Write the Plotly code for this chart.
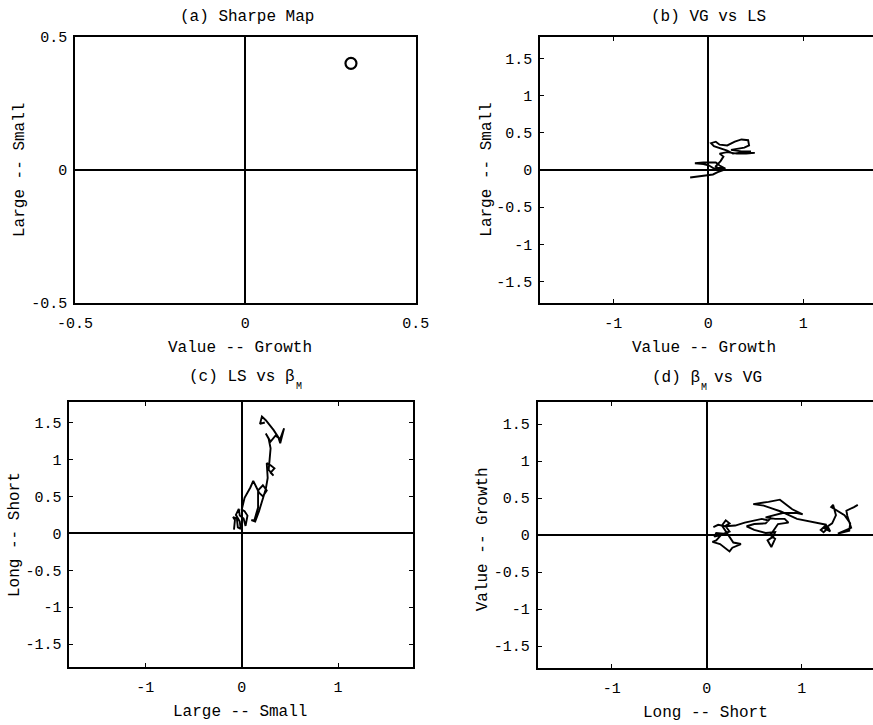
import plotly.graph_objects as go

W, H = 873, 725
FONT = "Liberation Mono, Courier New, monospace"

# (a) Sharpe map: single style point (Value--Growth, Large--Small)
sharpe_vg = [0.31]
sharpe_ls = [0.40]

# (b) VG vs LS trajectory
vg_b = [-0.19, -0.12, -0.02, 0.05, 0.10, 0.18, 0.14, 0.06, 0.01, -0.05, -0.14, -0.05,
        0.08, 0.12, 0.18, 0.12, 0.08, 0.13, 0.16, 0.12, 0.20, 0.30, 0.40, 0.49, 0.38,
        0.26, 0.20, 0.12, 0.06, 0.03, 0.08, 0.12, 0.20, 0.28, 0.35, 0.42, 0.43, 0.38,
        0.30, 0.24, 0.35, 0.45]
ls_b = [-0.10, -0.09, -0.08, -0.06, -0.03, 0.01, 0.03, 0.02, 0.06, 0.08, 0.09, 0.10,
        0.10, 0.06, 0.02, 0.00, 0.05, 0.12, 0.18, 0.22, 0.24, 0.22, 0.22, 0.23, 0.24,
        0.22, 0.26, 0.30, 0.32, 0.36, 0.38, 0.34, 0.33, 0.38, 0.41, 0.40, 0.33, 0.30,
        0.28, 0.27, 0.25, 0.25]

# (c) LS vs beta_M trajectory
ls_c = [-0.08, -0.07, -0.09, -0.05, -0.04, -0.01, -0.02, -0.06, -0.03, -0.02, 0.02,
        0.04, 0.06, 0.03, 0.00, 0.03, 0.09, 0.12, 0.15, 0.18, 0.22, 0.26, 0.22, 0.17,
        0.17, 0.13, 0.10, 0.14, 0.18, 0.22, 0.25, 0.27, 0.26, 0.30, 0.34, 0.30, 0.33,
        0.28, 0.29, 0.30, 0.28, 0.25, 0.30, 0.35, 0.40, 0.44, 0.40, 0.38, 0.33, 0.25,
        0.21, 0.19, 0.24]
bm_c = [0.05, 0.18, 0.22, 0.20, 0.08, 0.06, 0.16, 0.25, 0.33, 0.24, 0.20, 0.10,
        0.24, 0.30, 0.32, 0.48, 0.62, 0.71, 0.63, 0.55, 0.50, 0.58, 0.65, 0.58,
        0.35, 0.17, 0.18, 0.16, 0.30, 0.48, 0.60, 0.75, 0.95, 0.92, 0.88, 0.82, 0.78,
        0.86, 1.00, 1.15, 1.28, 1.35, 1.24, 1.32, 1.28, 1.42, 1.22, 1.30, 1.40, 1.53,
        1.58, 1.48, 1.50]

# (d) beta_M vs VG trajectory
bm_d = [0.07, 0.12, 0.20, 0.24, 0.18, 0.10, 0.08, 0.15, 0.10, 0.06, 0.14, 0.24, 0.27,
        0.36, 0.28, 0.25, 0.20, 0.16, 0.20, 0.24, 0.19, 0.30, 0.40, 0.50, 0.58, 0.65,
        0.68, 0.62, 0.50, 0.42, 0.50, 0.62, 0.72, 0.70, 0.64, 0.68, 0.72, 0.67, 0.75,
        0.86, 0.82, 0.72, 0.62, 0.80, 0.95, 1.01, 0.90, 0.77, 0.65, 0.49, 0.60, 0.72,
        0.78, 0.95, 1.10, 1.26, 1.20, 1.23, 1.28, 1.30, 1.24, 1.32, 1.36, 1.33, 1.31,
        1.37, 1.45, 1.51, 1.50, 1.38, 1.52, 1.48, 1.47, 1.55, 1.59]
vg_d = [0.11, 0.14, 0.12, 0.05, 0.02, 0.03, -0.02, 0.00, -0.07, -0.09, -0.12, -0.22,
        -0.17, -0.12, -0.10, -0.04, 0.05, 0.13, 0.20, 0.16, 0.12, 0.13, 0.17, 0.20,
        0.22, 0.20, 0.24, 0.16, 0.15, 0.12, 0.07, 0.03, 0.04, -0.02, -0.07, -0.16,
        -0.05, 0.00, 0.15, 0.17, 0.22, 0.22, 0.24, 0.30, 0.30, 0.28, 0.35, 0.48, 0.45,
        0.42, 0.40, 0.35, 0.32, 0.22, 0.18, 0.14, 0.07, 0.04, 0.10, 0.05, 0.09, 0.16,
        0.27, 0.41, 0.38, 0.33, 0.27, 0.16, 0.06, 0.02, 0.10, 0.26, 0.33, 0.38, 0.41]

# tick values and labels
ticks_half = [-0.5, 0, 0.5]
ticks_half_text = ["-0.5", "0", "0.5"]
ticks_x = [-1, 0, 1]
ticks_x_text = ["-1", "0", "1"]
ticks_y = [-1.5, -1, -0.5, 0, 0.5, 1, 1.5]
ticks_y_text = ["-1.5", "-1", "-0.5", "0", "0.5", "1", "1.5"]

xtitles = ["Value -- Growth", "Value -- Growth", "Large -- Small", "Long -- Short"]
ytitles = ["Large -- Small", "Large -- Small", "Long -- Short", "Value -- Growth"]

# panel titles as pieces: (text, left x px, centre y px, font size);
# the small "M" pieces are the subscripts of beta
title_pieces = [
    ("(a) Sharpe Map", 178.5, 17.3, 16),
    ("(b) VG vs LS", 650.4, 17.3, 16),
    ("(c) LS vs \u03b2", 188.0, 377.0, 16),
    ("M", 294.5, 386.0, 10),
    ("(d) \u03b2", 651.0, 378.0, 16),
    ("M", 699.5, 387.0, 10),
    ("vs VG", 713.0, 378.0, 16),
]


def px_x(p):
    return p / W


def px_y(p):
    return 1 - p / H


# panel boxes in pixels: left, right, top, bottom
boxes = [(75, 415.7, 36.7, 303), (540, 873, 37.3, 303),
         (69.3, 413.3, 401.7, 667.3), (537.7, 873, 402.3, 668.3)]
xranges = [[-0.5, 0.5], [-1.77, 1.734], [-1.789, 1.781], [-1.779, 1.75]]
yranges = [[-0.5, 0.5], [-1.786, 1.782], [-1.813, 1.781], [-1.80, 1.796]]
xticks = [(ticks_half, ticks_half_text), (ticks_x, ticks_x_text),
          (ticks_x, ticks_x_text), (ticks_x, ticks_x_text)]
yticks = [(ticks_half, ticks_half_text), (ticks_y, ticks_y_text),
          (ticks_y, ticks_y_text), (ticks_y, ticks_y_text)]

# axis-title positions (pixels)
xtitle_pos = [(240, 347.7), (704, 348.3), (240, 712.3), (705, 713.3)]
ytitle_pos = [(20, 170), (486.7, 170), (15, 535), (483.3, 539)]

fig = go.Figure()

series = [(sharpe_vg, sharpe_ls), (vg_b, ls_b), (ls_c, bm_c), (bm_d, vg_d)]
for i, (xs, ys) in enumerate(series):
    sfx = "" if i == 0 else str(i + 1)
    if i == 0:
        fig.add_trace(go.Scatter(
            x=xs, y=ys, mode="markers", xaxis="x" + sfx, yaxis="y" + sfx,
            marker=dict(symbol="circle-open", size=11, color="black",
                        line=dict(width=2.2, color="black")),
            showlegend=False, hoverinfo="skip"))
    else:
        fig.add_trace(go.Scatter(
            x=xs, y=ys, mode="lines", xaxis="x" + sfx, yaxis="y" + sfx,
            line=dict(color="black", width=1.9),
            showlegend=False, hoverinfo="skip"))

layout = {}
for i in range(4):
    sfx = "" if i == 0 else str(i + 1)
    l, r, t, b = boxes[i]
    full_box = i in (0, 2)
    common = dict(showline=True, linecolor="black", linewidth=1.7,
                  ticks="inside", ticklen=4, tickcolor="black", tickwidth=1,
                  zeroline=True, zerolinecolor="black", zerolinewidth=1.6,
                  showgrid=False, automargin=False,
                  tickfont=dict(family=FONT, size=15, color="black"),
                  fixedrange=True)
    layout["xaxis" + sfx] = dict(
        common, domain=[px_x(l), px_x(r)], range=xranges[i],
        anchor="y" + sfx, tickvals=xticks[i][0], ticktext=xticks[i][1],
        mirror="ticks", ticklabelstandoff=5)
    layout["yaxis" + sfx] = dict(
        common, domain=[px_y(b), px_y(t)], range=yranges[i],
        anchor="x" + sfx, tickvals=yticks[i][0], ticktext=yticks[i][1],
        mirror="ticks" if full_box else False, ticklabelstandoff=3)

annotations = []
for text, lx, cy, size in title_pieces:
    annotations.append(dict(text=text, x=px_x(lx), y=px_y(cy), xref="paper",
                            yref="paper", showarrow=False, xanchor="left",
                            yanchor="middle", borderpad=0,
                            font=dict(family=FONT, size=size, color="black")))
for i in range(4):
    ax, ay = xtitle_pos[i]
    annotations.append(dict(text=xtitles[i], x=px_x(ax), y=px_y(ay), xref="paper",
                            yref="paper", showarrow=False, xanchor="center",
                            yanchor="middle",
                            font=dict(family=FONT, size=16, color="black")))
    yx, yy = ytitle_pos[i]
    annotations.append(dict(text=ytitles[i], x=px_x(yx), y=px_y(yy), xref="paper",
                            yref="paper", showarrow=False, xanchor="center",
                            yanchor="middle", textangle=-90,
                            font=dict(family=FONT, size=16, color="black")))

fig.update_layout(
    width=W, height=H,
    margin=dict(l=0, r=0, t=0, b=0, pad=0, autoexpand=False),
    paper_bgcolor="white", plot_bgcolor="white",
    showlegend=False,
    annotations=annotations,
    **layout,
)

fig.write_html("out.html", config={"displayModeBar": False})
